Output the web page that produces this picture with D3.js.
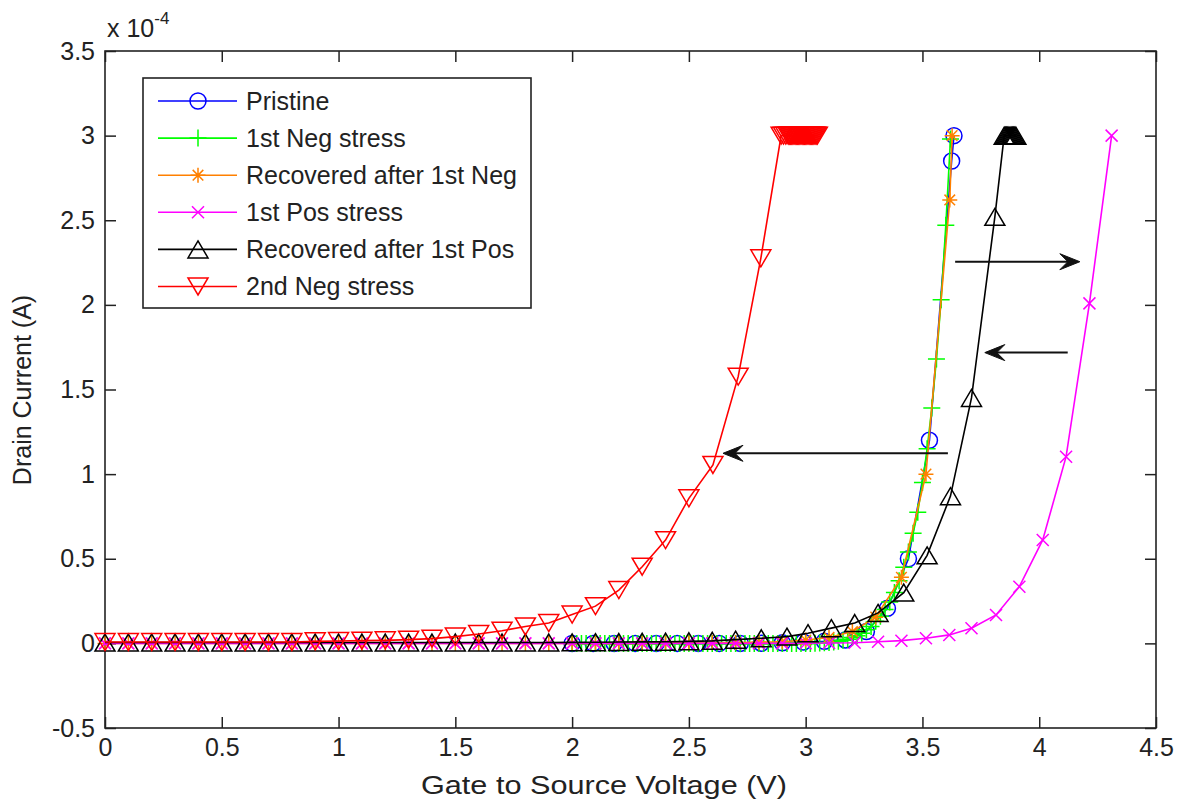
<!DOCTYPE html>
<html><head><meta charset="utf-8">
<script src="https://cdn.jsdelivr.net/npm/d3@7"></script>
<style>
body{margin:0;background:#fff;}
svg{display:block;}
text{font-family:"Liberation Sans", Arial, sans-serif;fill:#222;}
</style>
</head><body>
<svg id="chart" width="1184" height="801"></svg>
<script>
// ---------- data ----------
const xTicks = [0, 0.5, 1, 1.5, 2, 2.5, 3, 3.5, 4, 4.5];
const yTicks = [-0.5, 0, 0.5, 1, 1.5, 2, 2.5, 3, 3.5];
const xLabel = "Gate to Source Voltage (V)";
const yLabel = "Drain Current (A)";
const seriesNames = ["Pristine", "1st Neg stress", "Recovered after 1st Neg", "1st Pos stress", "Recovered after 1st Pos", "2nd Neg stress"];
const seriesColors = ["#0000ff", "#00ff00", "#ff8000", "#ff00ff", "#000000", "#ff0000"];
const seriesMarkers = ["circle", "plus", "asterisk", "cross", "triUp", "triDown"];

// Drain current values in units of 1e-4 A
const vPristine = [2.00, 2.09, 2.18, 2.27, 2.36, 2.45, 2.54, 2.63, 2.72, 2.81, 2.90, 2.99, 3.08, 3.17, 3.26, 3.35, 3.44, 3.53, 3.625, 3.635];
const iPristine = [0, 0, 0, 0, 0, 0, 0, 0, 0, 0.001, 0.003, 0.008, 0.012, 0.02, 0.07, 0.207, 0.50, 1.20, 2.85, 3.0];

const vNeg1 = [2.00, 2.02, 2.04, 2.06, 2.08, 2.10, 2.12, 2.14, 2.16, 2.18, 2.20, 2.22, 2.24, 2.26, 2.28, 2.30, 2.32, 2.34, 2.36, 2.38,
  2.40, 2.42, 2.44, 2.46, 2.48, 2.50, 2.52, 2.54, 2.56, 2.58, 2.60, 2.62, 2.64, 2.66, 2.68, 2.70, 2.72, 2.74, 2.76, 2.78,
  2.80, 2.82, 2.84, 2.86, 2.88, 2.90, 2.92, 2.94, 2.96, 2.98, 3.00, 3.02, 3.04, 3.06, 3.08, 3.10, 3.12, 3.14, 3.16, 3.18,
  3.20, 3.22, 3.24, 3.26, 3.28, 3.30, 3.32, 3.34, 3.36, 3.38, 3.40, 3.42, 3.44, 3.46, 3.48, 3.50, 3.52, 3.54, 3.56, 3.58,
  3.60, 3.62];
const iNeg1 = [0, 0, 0, 0, 0, 0, 0, 0, 0, 0, 0, 0, 0, 0, 0, 0, 0, 0, 0, 0,
  0, 0, 0, 0, 0, 0, 0, 0, 0, 0, 0, 0, 0, 0, 0, 0, 0, 0, 0, 0,
  0, 0, 0, 0, 0, 0, 0, 0, 0, 0, 0, 0, 0.001, 0.002, 0.003, 0.005, 0.008, 0.012, 0.018, 0.025,
  0.035, 0.045, 0.06, 0.08, 0.10, 0.13, 0.16, 0.20, 0.245, 0.30, 0.37, 0.45, 0.54, 0.65, 0.775, 0.95, 1.15, 1.39, 1.68, 2.03,
  2.47, 2.98];

const vRecNeg1 = [0, 0.1, 0.2, 0.3, 0.4, 0.5, 0.6, 0.7, 0.8, 0.9, 1.0, 1.1, 1.2, 1.3, 1.4, 1.5, 1.6, 1.7, 1.8, 1.9,
  2.0, 2.1, 2.2, 2.3, 2.4, 2.5, 2.6, 2.7, 2.8, 2.9, 3.0, 3.1, 3.2, 3.3, 3.41, 3.515, 3.617, 3.627];
const iRecNeg1 = [0, 0, 0, 0, 0, 0, 0, 0, 0, 0, 0, 0, 0, 0, 0, 0, 0, 0, 0, 0,
  0, 0, 0, 0, 0.001, 0.002, 0.003, 0.005, 0.007, 0.01, 0.02, 0.035, 0.07, 0.155, 0.39, 1.0, 2.62, 3.0];

const vPos1 = [0, 0.1, 0.2, 0.3, 0.4, 0.5, 0.6, 0.7, 0.8, 0.9, 1.0, 1.1, 1.2, 1.3, 1.4, 1.5, 1.6, 1.7, 1.8, 1.9,
  2.0, 2.1, 2.2, 2.3, 2.4, 2.5, 2.6, 2.7, 2.8, 2.9, 3.0, 3.1, 3.21, 3.31, 3.41, 3.515, 3.615, 3.71, 3.815, 3.915,
  4.015, 4.115, 4.215, 4.31];
const iPos1 = [0, 0, 0, 0, 0, 0, 0, 0, 0, 0, 0, 0, 0, 0, 0, 0, 0, 0, 0, 0,
  0, 0, 0, 0, 0, 0, 0, 0, 0, 0, 0.001, 0.002, 0.004, 0.01, 0.016, 0.03, 0.05, 0.089, 0.168, 0.335,
  0.611, 1.103, 2.009, 3.0];

const vRecPos1 = [0, 0.1, 0.2, 0.3, 0.4, 0.5, 0.6, 0.7, 0.8, 0.9, 1.0, 1.1, 1.2, 1.3, 1.4, 1.5, 1.6, 1.7, 1.8, 1.9,
  2.0, 2.1, 2.2, 2.3, 2.4, 2.5, 2.6, 2.7, 2.81, 2.92, 3.01, 3.11, 3.21, 3.31, 3.42, 3.52, 3.62, 3.71, 3.81,
  3.850, 3.855, 3.860, 3.865, 3.870, 3.875, 3.880, 3.885, 3.890, 3.895, 3.900];
const iRecPos1 = [0.005, 0.005, 0.005, 0.005, 0.005, 0.005, 0.005, 0.005, 0.005, 0.005, 0.005, 0.005, 0.005, 0.005, 0.005, 0.005, 0.005, 0.005, 0.005, 0.005,
  0.006, 0.007, 0.008, 0.009, 0.01, 0.012, 0.015, 0.022, 0.03, 0.04, 0.06, 0.09, 0.12, 0.18, 0.30, 0.52, 0.87, 1.45, 2.52,
  3.0, 3.0, 3.0, 3.0, 3.0, 3.0, 3.0, 3.0, 3.0, 3.0, 3.0];

const vNeg2 = [0, 0.1, 0.2, 0.3, 0.4, 0.5, 0.6, 0.7, 0.8, 0.9, 1.0, 1.1, 1.2, 1.3, 1.4, 1.5, 1.6, 1.7, 1.8, 1.9,
  2.0, 2.1, 2.2, 2.3, 2.4, 2.5, 2.603, 2.711, 2.808, 2.895,
  2.905, 2.915, 2.925, 2.930, 2.935, 2.940, 2.945, 2.950, 2.955, 2.960, 2.965, 2.970, 2.975, 2.980, 2.985,
  2.990, 2.995, 3.000, 3.005, 3.010, 3.015, 3.020, 3.025, 3.030, 3.035, 3.040, 3.045, 3.050];
const iNeg2 = [0.008, 0.008, 0.008, 0.008, 0.008, 0.008, 0.008, 0.008, 0.008, 0.012, 0.014, 0.016, 0.018, 0.022, 0.028, 0.04, 0.055, 0.075, 0.10, 0.12,
  0.17, 0.22, 0.315, 0.453, 0.61, 0.857, 1.054, 1.576, 2.275, 3.0,
  3.0, 3.0, 3.0, 3.0, 3.0, 3.0, 3.0, 3.0, 3.0, 3.0, 3.0, 3.0, 3.0, 3.0, 3.0,
  3.0, 3.0, 3.0, 3.0, 3.0, 3.0, 3.0, 3.0, 3.0, 3.0, 3.0, 3.0, 3.0];

const seriesV = [vPristine, vNeg1, vRecNeg1, vPos1, vRecPos1, vNeg2];
const seriesI = [iPristine, iNeg1, iRecNeg1, iPos1, iRecPos1, iNeg2];

// annotation arrows (data coords): from x1 to x2 at level y
const arrowFrom = [3.609, 3.64, 4.122];
const arrowTo   = [2.646, 4.174, 3.767];
const arrowY    = [1.123, 2.255, 1.718];

// ---------- drawing ----------
const svg = d3.select("#chart");
const W = 1184, H = 801;
const L = 105, R = 1156, T = 51, B = 728;
const x = d3.scaleLinear().domain([0, 4.5]).range([L, R]);
const y = d3.scaleLinear().domain([-0.5, 3.5]).range([B, T]);
const FS = 25;

svg.append("rect").attr("width", W).attr("height", H).attr("fill", "#fff");

const tk = 11;
const fmt = d => String(d);
const gB = svg.append("g").attr("transform", `translate(0,${B})`)
  .call(d3.axisBottom(x).tickValues(xTicks).tickSize(-tk).tickPadding(10).tickFormat(fmt));
const gT = svg.append("g").attr("transform", `translate(0,${T})`)
  .call(d3.axisTop(x).tickValues(xTicks).tickSize(-tk).tickFormat(""));
const gL = svg.append("g").attr("transform", `translate(${L},0)`)
  .call(d3.axisLeft(y).tickValues(yTicks).tickSize(-tk).tickPadding(10).tickFormat(fmt));
const gR = svg.append("g").attr("transform", `translate(${R},0)`)
  .call(d3.axisRight(y).tickValues(yTicks).tickSize(-tk).tickFormat(""));
[gB, gT, gL, gR].forEach(g => {
  g.select(".domain").remove();
  g.selectAll(".tick line").attr("stroke", "#222").attr("stroke-width", 1.5);
  g.selectAll(".tick text").attr("font-size", FS).attr("fill", "#222")
   .attr("font-family", "Liberation Sans, Arial, sans-serif");
});

svg.append("rect").attr("x", L).attr("y", T).attr("width", R - L).attr("height", B - T)
  .attr("fill", "none").attr("stroke", "#222").attr("stroke-width", 1.6);

// marker shapes
function markerPath(type) {
  switch (type) {
    case "plus": return "M-8.5,0H8.5M0,-8.5V8.5";
    case "asterisk": return "M-7.5,0H7.5M0,-7.5V7.5M-5.3,-5.3L5.3,5.3M-5.3,5.3L5.3,-5.3";
    case "cross": return "M-6,-6L6,6M-6,6L6,-6";
    case "triUp": return "M0,-8.5L10,8.5L-10,8.5Z";
    case "triDown": return "M0,8.5L10,-8.5L-10,-8.5Z";
  }
  return null;
}
function drawMarker(g, type, color, cx, cy) {
  if (type === "circle") {
    g.append("circle").attr("cx", cx).attr("cy", cy).attr("r", 8)
      .attr("fill", "none").attr("stroke", color).attr("stroke-width", 1.5);
  } else {
    g.append("path").attr("d", markerPath(type)).attr("transform", `translate(${cx},${cy})`)
      .attr("fill", "none").attr("stroke", color).attr("stroke-width", 1.5);
  }
}

const line = d3.line().x(d => x(d[0])).y(d => y(d[1]));
const plot = svg.append("g");
seriesNames.forEach((name, k) => {
  const pts = seriesV[k].map((v, i) => [v, seriesI[k][i]]);
  const g = plot.append("g");
  g.append("path").datum(pts).attr("d", line).attr("fill", "none")
    .attr("stroke", seriesColors[k]).attr("stroke-width", 1.6);
  pts.forEach(p => drawMarker(g, seriesMarkers[k], seriesColors[k], x(p[0]), y(p[1])));
});

// arrows
arrowFrom.forEach((xf, i) => {
  const x1 = x(xf), x2 = x(arrowTo[i]), yy = y(arrowY[i]);
  const dir = x2 > x1 ? 1 : -1;
  svg.append("line").attr("x1", x1).attr("x2", x2 - dir * 8).attr("y1", yy).attr("y2", yy)
    .attr("stroke", "#111").attr("stroke-width", 2);
  const bx = x2 - dir * 20, nx = x2 - dir * 12;
  svg.append("path").attr("d", `M${x2},${yy}L${bx},${yy - 8}L${nx},${yy}L${bx},${yy + 8}Z`)
    .attr("fill", "#111").attr("stroke", "#111").attr("stroke-width", 1);
});

// legend
const lg = svg.append("g");
lg.append("rect").attr("x", 143).attr("y", 78).attr("width", 388).attr("height", 230)
  .attr("fill", "#fff").attr("stroke", "#222").attr("stroke-width", 1.6);
seriesNames.forEach((name, k) => {
  const cy = 101 + k * 37.1;
  lg.append("line").attr("x1", 158).attr("x2", 237).attr("y1", cy).attr("y2", cy)
    .attr("stroke", seriesColors[k]).attr("stroke-width", 1.6);
  drawMarker(lg, seriesMarkers[k], seriesColors[k], 198, cy);
  lg.append("text").attr("x", 246).attr("y", cy).attr("dy", "0.35em")
    .attr("font-size", FS).text(name);
});

// exponent label
const ex = svg.append("text").attr("x", 107).attr("y", 37).attr("font-size", FS);
ex.append("tspan").text("x 10");
ex.append("tspan").attr("dy", -13).attr("font-size", 17).text("-4");

// axis labels
svg.append("text").attr("x", 604).attr("y", 785).attr("text-anchor", "middle")
  .attr("dy", "0.35em").attr("font-size", FS).attr("textLength", 366).attr("lengthAdjust", "spacingAndGlyphs").text(xLabel);
svg.append("text").attr("transform", "translate(22,390) rotate(-90)").attr("text-anchor", "middle")
  .attr("dy", "0.35em").attr("font-size", FS).text(yLabel);
</script>
</body></html>
